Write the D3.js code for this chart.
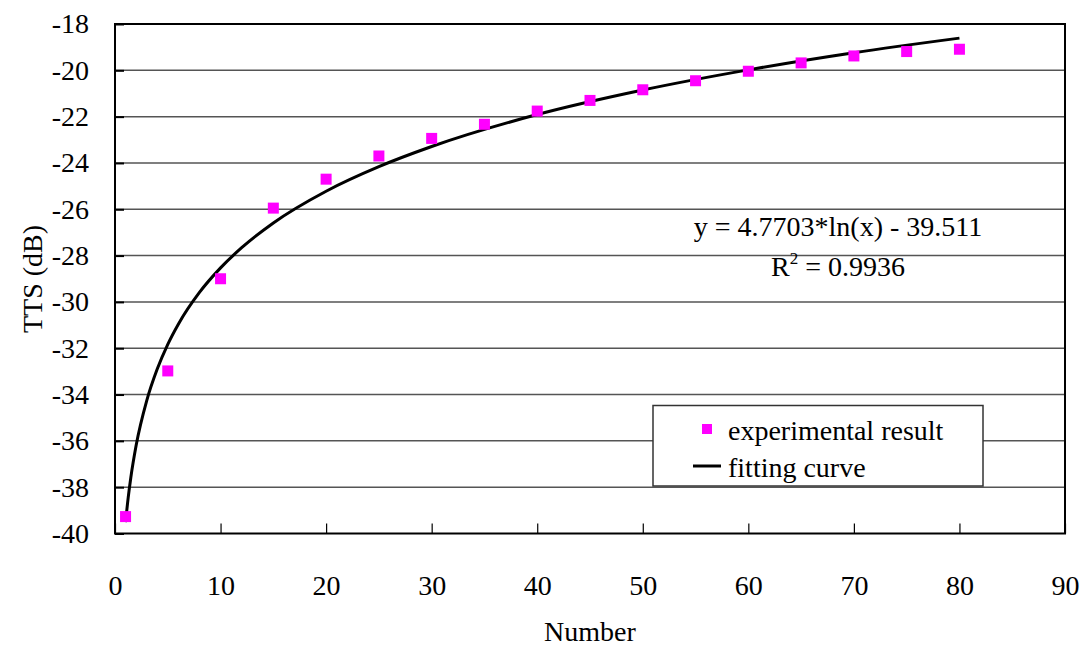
<!DOCTYPE html>
<html>
<head>
<meta charset="utf-8">
<script src="https://cdn.jsdelivr.net/npm/d3@7"></script>
<style>
  html, body { margin: 0; padding: 0; background: #fff; }
  svg { display: block; }
  svg text { font-family: "Liberation Serif", "Times New Roman", Times, "DejaVu Serif", serif !important; fill: #000; }
</style>
</head>
<body>
<svg id="chart" width="1086" height="646"></svg>
<script>
// ---- data ----
const numbers = [1, 5, 10, 15, 20, 25, 30, 35, 40, 45, 50, 55, 60, 65, 70, 75, 80];
const ttsValues = [-39.27, -32.98, -29.0, -25.95, -24.7, -23.7, -22.94, -22.33, -21.76, -21.3, -20.84, -20.45, -20.04, -19.68, -19.38, -19.19, -19.09];
const curveX = [1, 1.25, 1.5, 2, 3, 4, 5, 6, 8, 10, 12, 15, 20, 25, 30, 40, 50, 60, 70, 80];
const curveY = [-39.51, -38.45, -37.58, -36.20, -34.27, -32.90, -31.83, -30.96, -29.59, -28.53, -27.66, -26.59, -25.22, -24.16, -23.29, -21.91, -20.85, -19.98, -19.24, -18.61];
const xTicks = [0, 10, 20, 30, 40, 50, 60, 70, 80, 90];
const yTicks = [-40, -38, -36, -34, -32, -30, -28, -26, -24, -22, -20, -18];
const seriesNames = ["experimental result", "fitting curve"];
const equationText = "y = 4.7703*ln(x) - 39.511";
const r2Value = "0.9936";
const xTitle = "Number";
const yTitle = "TTS (dB)";

// ---- layout ----
const FONT = '"Liberation Serif", "Times New Roman", Times, "DejaVu Serif", serif';
const svg = d3.select("#chart").attr("font-family", FONT);
const L = 115, R = 1065, T = 24, B = 533.5;
const x = d3.scaleLinear().domain([0, 90]).range([L, R]);
const y = d3.scaleLinear().domain([-40, -18]).range([B, T]);
const fs = 28;

// gridlines
svg.append("g").selectAll("line").data(yTicks.filter(d => d > -40 && d < -18)).join("line")
  .attr("x1", L).attr("x2", R)
  .attr("y1", d => y(d)).attr("y2", d => y(d))
  .attr("stroke", "#555").attr("stroke-width", 1.5);

// axes
const xAxis = d3.axisBottom(x).tickValues(xTicks).tickSize(-10).tickPadding(42).tickFormat(d => String(d));
const gx = svg.append("g").attr("transform", `translate(0,${B})`).call(xAxis);
gx.attr("font-family", FONT).attr("font-size", fs);
gx.select(".domain").remove();
gx.selectAll("line").attr("stroke", "#000").attr("stroke-width", 1.2);
gx.selectAll("text").attr("fill", "#000");

const yAxis = d3.axisLeft(y).tickValues(yTicks).tickSize(-9).tickPadding(26).tickFormat(d => String(d));
const gy = svg.append("g").attr("transform", `translate(${L},0)`).call(yAxis);
gy.attr("font-family", FONT).attr("font-size", fs);
gy.select(".domain").remove();
gy.selectAll("line").attr("stroke", "#000").attr("stroke-width", 2);
gy.selectAll("text").attr("fill", "#000");

// frame
svg.append("rect").attr("x", L).attr("y", T).attr("width", R - L).attr("height", B - T)
  .attr("fill", "none").attr("stroke", "#000").attr("stroke-width", 2);

// fitting curve
const line = d3.line().x(d => x(d[0])).y(d => y(d[1])).curve(d3.curveMonotoneX);
svg.append("path").datum(curveX.map((v, i) => [v, curveY[i]]))
  .attr("d", line).attr("fill", "none").attr("stroke", "#000").attr("stroke-width", 3);

// points
const ms = 11;
svg.append("g").selectAll("rect").data(numbers.map((v, i) => [v, ttsValues[i]])).join("rect")
  .attr("x", d => x(d[0]) - ms / 2).attr("y", d => y(d[1]) - ms / 2)
  .attr("width", ms).attr("height", ms).attr("fill", "#ff00ff");

// equation
svg.append("text").attr("x", 838).attr("y", 236).attr("text-anchor", "middle")
  .attr("font-size", fs).text(equationText);
const r2 = svg.append("text").attr("x", 838).attr("y", 276).attr("text-anchor", "middle").attr("font-size", fs);
r2.append("tspan").text("R");
r2.append("tspan").attr("dy", -12).attr("font-size", 17).text("2");
r2.append("tspan").attr("dy", 12).text(" = " + r2Value);

// legend
const lg = svg.append("g");
lg.append("rect").attr("x", 653).attr("y", 405.5).attr("width", 330).attr("height", 80.5)
  .attr("fill", "#fff").attr("stroke", "#333").attr("stroke-width", 1.5);
lg.append("rect").attr("x", 702).attr("y", 424).attr("width", 10).attr("height", 10).attr("fill", "#ff00ff");
lg.append("text").attr("x", 728).attr("y", 440).attr("font-size", fs).text(seriesNames[0]);
lg.append("line").attr("x1", 693).attr("x2", 721).attr("y1", 466).attr("y2", 466)
  .attr("stroke", "#000").attr("stroke-width", 3);
lg.append("text").attr("x", 728).attr("y", 477).attr("font-size", fs).text(seriesNames[1]);

// axis titles
svg.append("text").attr("x", (L + R) / 2).attr("y", 641).attr("text-anchor", "middle")
  .attr("font-size", fs).text(xTitle);
svg.append("text").attr("transform", "translate(42,279) rotate(-90)").attr("text-anchor", "middle")
  .attr("font-size", fs).text(yTitle);
</script>
</body>
</html>
